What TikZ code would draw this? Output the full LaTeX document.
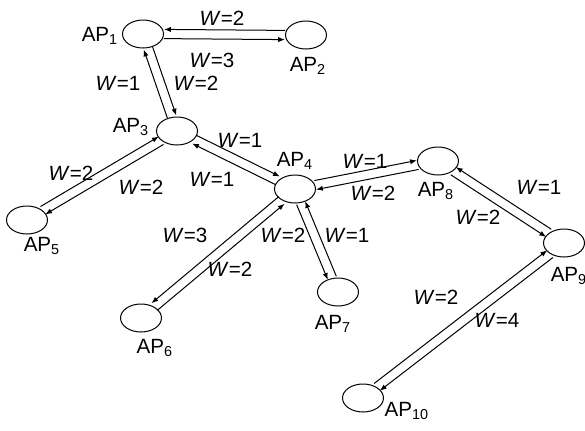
\documentclass[tikz,border=0pt]{standalone}
\usepackage{fontspec}
\setmainfont{Liberation Sans}
\usetikzlibrary{calc, arrows.meta, shapes.geometric}

% two opposite links between nodes #1 and #2, #3 = side offset
\newcommand{\linkpair}[3]{%
  \path let \p1=($(#2)-(#1)$), \n1={int(atan2(\y1,\x1))}, \n2={int(\n1+180)} in
    (#1.\n1) coordinate (s) (#2.\n2) coordinate (e);
  \draw[arr] ($(s)!#3!90:(e)$) -- ($(e)!#3!-90:(s)$);
  \draw[arr] ($(e)!#3!90:(s)$) -- ($(s)!#3!-90:(e)$);
}

\begin{document}
\begin{tikzpicture}[x=0.5pt,y=-0.5pt,line width=0.5pt,
  font=\fontsize{10.3}{12}\selectfont,
  ap/.style={draw,ellipse,minimum width=20.5pt,minimum height=14pt,inner sep=0pt},
  tag/.style={inner sep=0pt},
  wt/.style={inner sep=0pt},
  arr/.style={-{Latex[length=3.4pt,width=2.6pt]}}]
  \useasboundingbox (0,0) rectangle (585,430);
  % access points
  \node[ap] (ap1) at (143,34) {};
  \node[ap] (ap2) at (306,35) {};
  \node[ap] (ap3) at (177,131) {};
  \node[ap] (ap4) at (295,189) {};
  \node[ap] (ap5) at (27,220) {};
  \node[ap] (ap6) at (141,318) {};
  \node[ap] (ap7) at (338,292) {};
  \node[ap] (ap8) at (438,161) {};
  \node[ap] (ap9) at (564,243) {};
  \node[ap] (ap10) at (363,398) {};
  \node[tag] (t1) at (100,36) {AP\textsubscript{1}};
  \node[tag] (t2) at (308,66) {AP\textsubscript{2}};
  \node[tag] (t3) at (131,127) {AP\textsubscript{3}};
  \node[tag] (t4) at (295,161) {AP\textsubscript{4}};
  \node[tag] (t5) at (42,246) {AP\textsubscript{5}};
  \node[tag] (t6) at (155,348) {AP\textsubscript{6}};
  \node[tag] (t7) at (333,324) {AP\textsubscript{7}};
  \node[tag] (t8) at (436,191) {AP\textsubscript{8}};
  \node[tag] (t9) at (569,276) {AP\textsubscript{9}};
  \node[tag] (t10) at (407,411) {AP\textsubscript{10}};
  % links
  \linkpair{ap1}{ap2}{-2.3pt}
  \linkpair{ap1}{ap3}{2.3pt}
  \linkpair{ap3}{ap5}{2.3pt}
  \linkpair{ap3}{ap4}{2.3pt}
  \linkpair{ap4}{ap8}{2.3pt}
  \linkpair{ap4}{ap6}{-2.3pt}
  \linkpair{ap4}{ap7}{-2.3pt}
  \linkpair{ap8}{ap9}{-2.3pt}
  \linkpair{ap9}{ap10}{2.3pt}
  % weights
  \node[wt] (w21) at (222,18) {\textit{W}=2};
  \node[wt] (w12) at (212,60) {\textit{W}=3};
  \node[wt] (w31) at (118,83) {\textit{W}=1};
  \node[wt] (w13) at (196,83) {\textit{W}=2};
  \node[wt] (w53) at (71,173) {\textit{W}=2};
  \node[wt] (w35) at (141,187) {\textit{W}=2};
  \node[wt] (w34) at (240,140) {\textit{W}=1};
  \node[wt] (w43) at (212,179) {\textit{W}=1};
  \node[wt] (w48) at (365,161) {\textit{W}=1};
  \node[wt] (w84) at (373,193) {\textit{W}=2};
  \node[wt] (w47) at (283,235) {\textit{W}=2};
  \node[wt] (w74) at (347,235) {\textit{W}=1};
  \node[wt] (w46) at (185,235) {\textit{W}=3};
  \node[wt] (w64) at (230,269) {\textit{W}=2};
  \node[wt] (w98) at (539,187) {\textit{W}=1};
  \node[wt] (w89) at (478,217) {\textit{W}=2};
  \node[wt] (w109) at (436,297) {\textit{W}=2};
  \node[wt] (w910) at (497,320) {\textit{W}=4};
\end{tikzpicture}
\end{document}
